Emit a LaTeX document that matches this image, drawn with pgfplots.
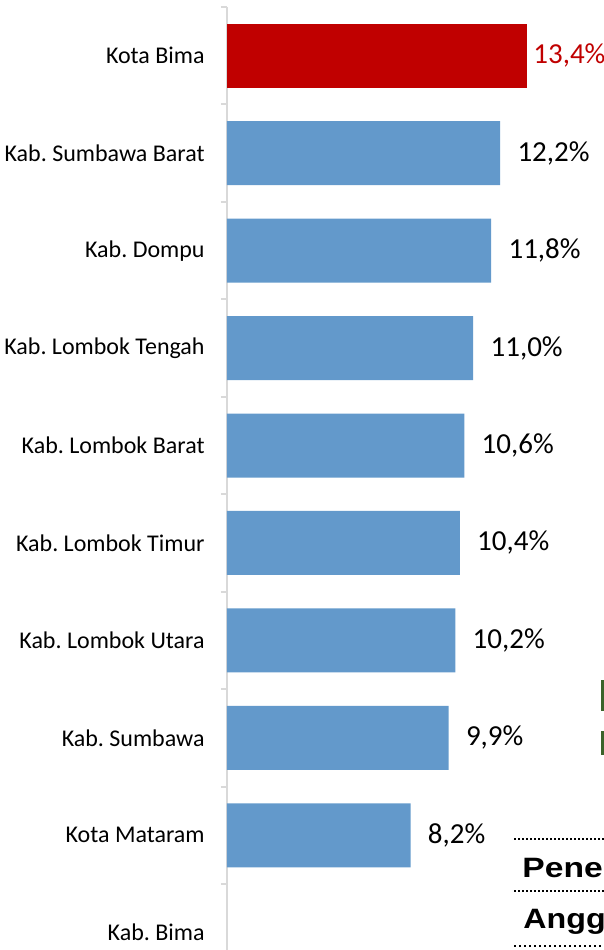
\documentclass[border=0pt]{standalone}
\usepackage{pgfplots}
\pgfplotsset{compat=1.18}
\usepackage{fontspec}
\setmainfont{Carlito}
\newfontfamily\arialfont{Liberation Sans}
\definecolor{barblue}{HTML}{6399CB}
\definecolor{barred}{HTML}{C00000}
\definecolor{axisgray}{HTML}{D9D9D9}
\definecolor{dgreen}{HTML}{3B632A}
\frenchspacing
\begin{document}
\begin{tikzpicture}
\useasboundingbox (0,0) rectangle (302pt,-475pt);
\clip (0,0) rectangle (302pt,-475pt);
\begin{axis}[
  at={(113.5pt,-3.5pt)}, anchor=north west,
  scale only axis, width=156.7pt, height=487.2pt,
  xbar, bar width=32pt, bar shift=0pt,
  xmin=0, xmax=14, ymin=-0.5, ymax=9.5, y dir=reverse,
  axis x line=none, axis y line=left,
  y axis line style={-, draw=axisgray, line width=1pt},
  ytick={0,...,9},
  yticklabels={Kota Bima, Kab. Sumbawa Barat, Kab. Dompu, Kab. Lombok Tengah, Kab. Lombok Barat, Kab. Lombok Timur, Kab. Lombok Utara, Kab. Sumbawa, Kota Mataram, Kab. Bima},
  major tick length=0pt,
  minor ytick={-0.5,0.5,...,9.5},
  minor tick length=3pt,
  tick align=outside,
  minor tick style={draw=axisgray, line width=1pt},
  yticklabel style={font=\fontsize{12}{14}\selectfont, anchor=east, inner sep=0pt, xshift=-11pt},
  point meta=x,
  clip=false,
]
\addplot[fill=barred, draw=none, bar shift=0pt,
  nodes near coords={\pgfmathprintnumber[fixed,zerofill,precision=1,use comma,assume math mode=true]{\pgfplotspointmeta}\%},
  nodes near coords style={anchor=west, inner sep=0pt, xshift=3pt, text=barred, font=\fontsize{14.5}{17}\selectfont}]
  coordinates {(13.4,0)};
\addplot[fill=barblue, draw=none, bar shift=0pt,
  nodes near coords={\pgfmathprintnumber[fixed,zerofill,precision=1,use comma,assume math mode=true]{\pgfplotspointmeta}\%},
  nodes near coords style={anchor=west, inner sep=0pt, xshift=8.5pt, text=black, font=\fontsize{14.5}{17}\selectfont}]
  coordinates {(12.2,1) (11.8,2) (11.0,3) (10.6,4) (10.4,5) (10.2,6) (9.9,7) (8.2,8)};
\end{axis}
\fill[dgreen] (300.5pt,-340pt) rectangle (303pt,-355.5pt);
\fill[dgreen] (300.5pt,-365.5pt) rectangle (303pt,-377.5pt);
\draw[line width=1pt, dash pattern=on 1pt off 1pt] (257pt,-419.5pt) -- (303pt,-419.5pt);
\draw[line width=1pt, dash pattern=on 1pt off 1pt] (257pt,-445.5pt) -- (303pt,-445.5pt);
\draw[line width=1.2pt, dash pattern=on 1pt off 1.5pt] (257pt,-473pt) -- (303pt,-473pt);
\node[anchor=base west, inner sep=0pt, xscale=1.2] at (261pt,-438.5pt) {\arialfont\bfseries\fontsize{14}{16}\selectfont Pene};
\node[anchor=base west, inner sep=0pt, xscale=1.15] at (261.5pt,-464pt) {\arialfont\bfseries\fontsize{14}{16}\selectfont Angg};
\end{tikzpicture}
\end{document}
